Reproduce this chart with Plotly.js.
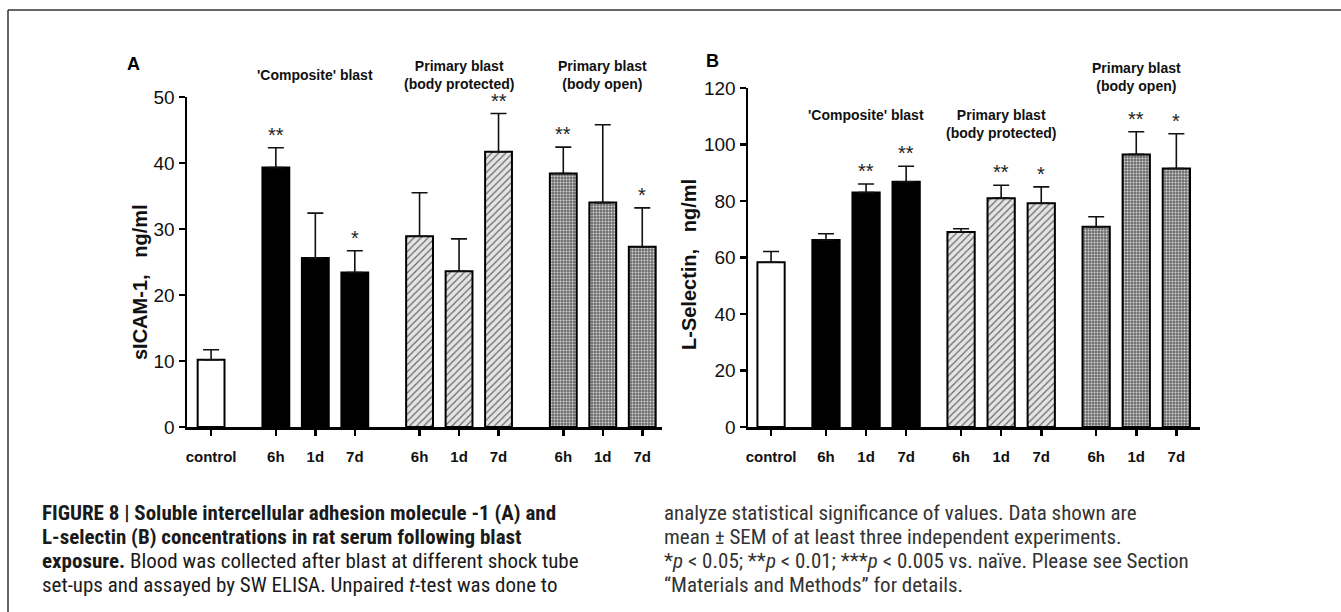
<!DOCTYPE html>
<html>
<head>
<meta charset="utf-8">
<script src="https://cdn.plot.ly/plotly-3.0.1.min.js"></script>
<style>html,body{margin:0;padding:0;background:#fff;}#chart{width:1341px;height:612px;}</style>
</head>
<body>
<div id="chart"></div>
<script>
// ---------- data ----------
const tickLabels = ['control','6h','1d','7d','6h','1d','7d','6h','1d','7d'];
const barGroups  = ['control','composite','composite','composite','protected','protected','protected','open','open','open'];
const groupTitlesA = ["'Composite' blast", 'Primary blast<br>(body protected)', 'Primary blast<br>(body open)'];
const groupTitlesB = ["'Composite' blast", 'Primary blast<br>(body protected)', 'Primary blast<br>(body open)'];

const sicamMean = [10.2, 39.3, 25.6, 23.4, 28.9, 23.6, 41.7, 38.4, 34.0, 27.3];
const sicamSem  = [1.5, 3.0, 6.8, 3.3, 6.6, 4.9, 5.8, 4.0, 11.8, 5.9];
const sicamSig  = ['', '**', '', '*', '', '', '**', '**', '', '*'];

const lselMean = [58.3, 66.2, 83.0, 86.8, 69.0, 81.0, 79.2, 70.9, 96.5, 91.5];
const lselSem  = [3.8, 2.2, 3.0, 5.5, 1.2, 4.6, 5.8, 3.5, 8.0, 12.3];
const lselSig  = ['', '', '**', '**', '', '**', '*', '', '**', '*'];

// ---------- layout helpers ----------
const W = 1341, H = 612;
const px = v => v / W;
const py = v => 1 - v / H;

function positions(gap) {
  const idx = [0, 1, 1, 1, 2, 2, 2, 3, 3, 3];
  const within = [0, 0, 1, 2, 0, 1, 2, 0, 1, 2];
  return idx.map((g, i) => (g === 0 ? 0 : g * gap + (g - 1) * 2 + within[i]));
}

const styles = {
  control:   {color: '#ffffff', pattern: {shape: ''}},
  composite: {color: '#000000', pattern: {shape: ''}},
  protected: {color: '#dcdcdc', pattern: {shape: '/', fgcolor: '#6a6a6a', bgcolor: '#e4e4e4', size: 5, solidity: 0.25}},
  open:      {color: '#8c8c8c', pattern: {shape: '.', fgcolor: '#d6d6d6', bgcolor: '#6e6e6e', size: 3, solidity: 0.35}}
};

const FONT = 'Arial, Liberation Sans, sans-serif';
const traces = [];
const annotations = [];

function addPanel(mean, sem, sig, gap, xa, ya) {
  const xs = positions(gap);
  ['control','composite','protected','open'].forEach(g => {
    const ii = barGroups.map((b, i) => b === g ? i : -1).filter(i => i >= 0);
    const st = styles[g];
    traces.push({
      type: 'bar', xaxis: xa, yaxis: ya,
      x: ii.map(i => xs[i]), y: ii.map(i => mean[i]),
      width: 0.68,
      marker: {color: st.color, line: {color: '#000', width: 2}, pattern: st.pattern},
      error_y: {type: 'data', symmetric: false, array: ii.map(i => sem[i]), arrayminus: ii.map(() => 0),
                color: '#111', thickness: 1.6, width: 8},
      showlegend: false, hoverinfo: 'skip'
    });
  });
  sig.forEach((s, i) => {
    if (!s) return;
    annotations.push({xref: xa, yref: ya, x: xs[i], y: mean[i] + sem[i], text: s,
      showarrow: false, yanchor: 'bottom', yshift: 0,
      font: {family: FONT, size: 20, color: '#222'}});
  });
  return xs;
}

const xsA = addPanel(sicamMean, sicamSem, sicamSig, 1.64, 'x', 'y');
const xsB = addPanel(lselMean, lselSem, lselSig, 1.37, 'x2', 'y2');

function groupTitle(xa, x, yPix, text) {
  annotations.push({xref: xa, yref: 'paper', x: x, y: py(yPix), text: text, showarrow: false,
    yanchor: 'middle', xanchor: 'center', align: 'center',
    font: {family: FONT, size: 14, color: '#111', weight: 'bold'}});
}
groupTitle('x', xsA[2], 75, groupTitlesA[0]);
groupTitle('x', xsA[5], 75, groupTitlesA[1]);
groupTitle('x', xsA[8], 75, groupTitlesA[2]);
groupTitle('x2', xsB[2], 115, groupTitlesB[0]);
groupTitle('x2', xsB[5], 124, groupTitlesB[1]);
groupTitle('x2', xsB[8], 77, groupTitlesB[2]);

annotations.push({xref: 'paper', yref: 'paper', x: px(125), y: py(52), text: '<b>A</b>', showarrow: false,
  font: {family: FONT, size: 18, color: '#000'}});
annotations.push({xref: 'paper', yref: 'paper', x: px(712), y: py(49), text: '<b>B</b>', showarrow: false,
  font: {family: FONT, size: 18, color: '#000'}});

annotations.push({xref: 'paper', yref: 'paper', x: px(127), y: py(282), text: '<b>sICAM-1,&nbsp;&nbsp; ng/ml</b>',
  textangle: -90, showarrow: false, font: {family: FONT, size: 20, color: '#111'}});
annotations.push({xref: 'paper', yref: 'paper', x: px(689), y: py(265), text: '<b>L-Selectin,&nbsp;&nbsp; ng/ml</b>',
  textangle: -90, showarrow: false, font: {family: FONT, size: 20, color: '#111'}});

// caption
const capFont = 'Liberation Sans Narrow, Arial Narrow, Roboto Condensed, Liberation Sans, sans-serif';
const capLeft = [
  '<b>FIGURE 8 | Soluble intercellular adhesion molecule -1 (A) and</b>',
  '<b>L-selectin (B) concentrations in rat serum following blast</b>',
  '<b>exposure.</b> Blood was collected after blast at different shock tube',
  'set-ups and assayed by SW ELISA. Unpaired <i>t</i>-test was done to'
];
const capRight = [
  'analyze statistical significance of values. Data shown are',
  'mean ± SEM of at least three independent experiments.',
  '*<i>p</i> < 0.05; **<i>p</i> < 0.01; ***<i>p</i> < 0.005 vs. naïve. Please see Section',
  '“Materials and Methods” for details.'
];
const capY = [513, 537, 561, 585];
capLeft.forEach((t, i) => annotations.push({xref: 'paper', yref: 'paper', x: px(40), y: py(capY[i]),
  xanchor: 'left', yanchor: 'middle', text: t, showarrow: false, font: {family: capFont, size: 21, color: '#1a1a1a'}}));
capRight.forEach((t, i) => annotations.push({xref: 'paper', yref: 'paper', x: px(662), y: py(capY[i]),
  xanchor: 'left', yanchor: 'middle', text: t, showarrow: false, font: {family: capFont, size: 21, color: '#333'}}));

function xaxisDef(domain, range, xs) {
  return {domain: domain, range: range, showgrid: false, zeroline: false,
    showline: true, linecolor: '#000', linewidth: 2.5, ticks: 'outside', ticklen: 6, tickwidth: 2.5, tickcolor: '#000',
    tickvals: xs, ticktext: tickLabels, ticklabelstandoff: 8,
    tickfont: {family: FONT, size: 15, color: '#111', weight: 'bold'}, fixedrange: true};
}
function yaxisDef(domain, range, dtick, anchor) {
  return {domain: domain, range: range, dtick: dtick, anchor: anchor, showgrid: false, zeroline: false,
    showline: true, linecolor: '#000', linewidth: 2.5, ticks: 'outside', ticklen: 6, tickwidth: 2.5, tickcolor: '#000',
    tickfont: {family: FONT, size: 19, color: '#111'}, fixedrange: true};
}

const layout = {
  width: W, height: H, margin: {l: 0, r: 0, t: 0, b: 0},
  paper_bgcolor: '#fff', plot_bgcolor: 'rgba(0,0,0,0)',
  bargap: 0, showlegend: false,
  xaxis:  Object.assign(xaxisDef([px(187), px(662)], [-0.61, 11.42], xsA), {anchor: 'y'}),
  yaxis:  yaxisDef([py(427), py(97)], [0, 50], 10, 'x'),
  xaxis2: Object.assign(xaxisDef([px(748), px(1200)], [-0.575, 10.7], xsB), {anchor: 'y2'}),
  yaxis2: yaxisDef([py(427), py(88)], [0, 120], 20, 'x2'),
  annotations: annotations,
  shapes: [
    {type: 'line', xref: 'paper', yref: 'paper', x0: px(8), x1: 1, y0: py(10), y1: py(10), line: {color: '#333', width: 1.5}},
    {type: 'line', xref: 'paper', yref: 'paper', x0: px(8), x1: px(8), y0: py(10), y1: 0, line: {color: '#333', width: 1.5}}
  ]
};

Plotly.newPlot('chart', traces, layout, {displayModeBar: false, staticPlot: true});
</script>
</body>
</html>
